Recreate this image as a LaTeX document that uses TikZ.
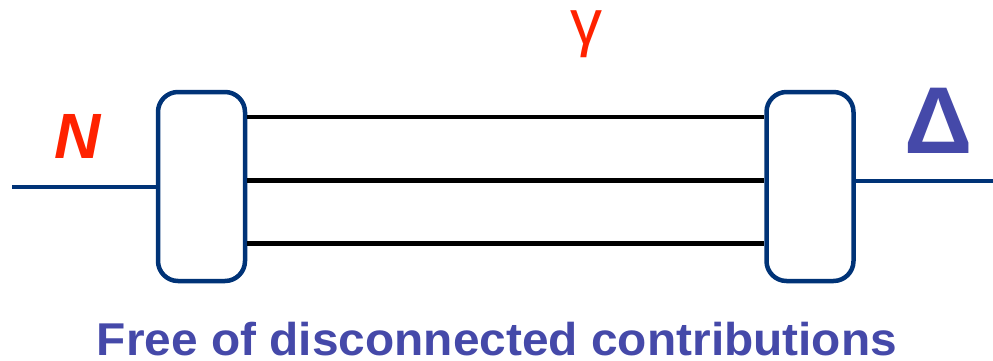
\documentclass[tikz,border=0pt]{standalone}
\usepackage{fontspec}
\setmainfont{Liberation Sans}
\definecolor{boxblue}{HTML}{003377}
\definecolor{labelred}{HTML}{FF2200}
\definecolor{labelblue}{HTML}{4549A9}
\tikzset{
  blob/.style={draw=boxblue, line width=4.5pt, rounded corners=20pt, fill=white,
    minimum width=87pt, minimum height=189pt, inner sep=0pt},
  leg/.style={draw=boxblue, line width=4pt},
  prop/.style={draw=black, line width=4.5pt},
}
\begin{document}
\begin{tikzpicture}[x=1pt, y=-1pt]
  \useasboundingbox (0,0) rectangle (993,360);
  % two vertices
  \node[blob] (L) at (201.5,186.5) {};
  \node[blob] (R) at (810,186.5) {};
  % external legs
  \coordinate (inN) at (12,186.5);
  \coordinate (outD) at (993,181);
  \draw[leg] (inN) -- (L.west |- inN);
  \draw[leg] (R.east |- outD) -- (outD);
  % three internal propagators
  \foreach \yy in {117,180.5,243.5} {
    \draw[prop] (L.east |- 0,\yy) -- (R.west |- 0,\yy);
  }
  % labels
  \node[text=labelred, font=\bfseries\itshape\fontsize{64}{64}\selectfont, inner sep=0pt, anchor=base] (nlab) at (78,158) {N};
  \node[text=labelred, font=\fontsize{64}{64}\selectfont, inner sep=0pt, anchor=base] (glab) at (586,44) {γ};
  \node[text=labelblue, font=\bfseries\fontsize{95}{95}\selectfont, inner sep=0pt, anchor=base] (dlab) at (939,153) {Δ};
  \node[text=labelblue, font=\bfseries\fontsize{46}{46}\selectfont, inner sep=0pt, anchor=base] (cap) at (497,355)
    {\scalebox{1.04}[1]{Free of disconnected contributions}};
\end{tikzpicture}
\end{document}
